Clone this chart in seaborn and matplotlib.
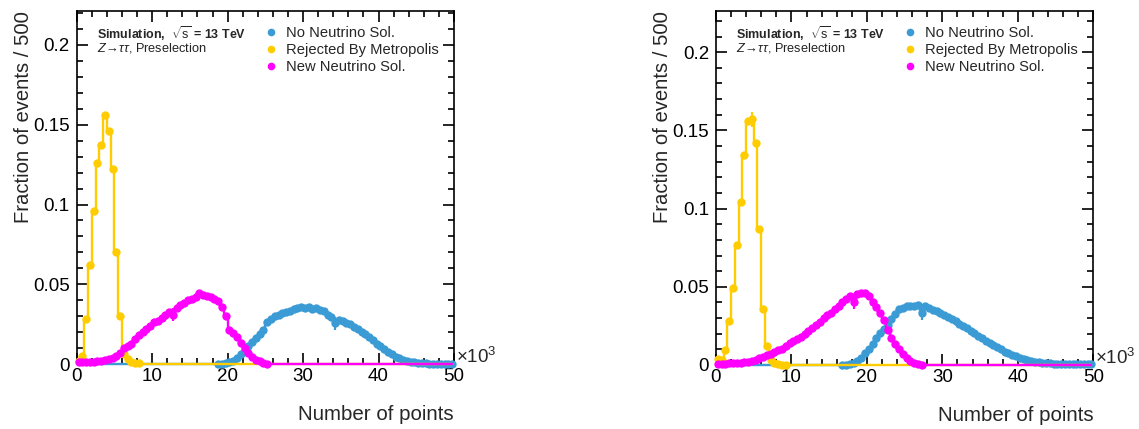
import numpy as np
import pandas as pd
import matplotlib
matplotlib.use("Agg")
import matplotlib.pyplot as plt
from matplotlib.lines import Line2D
from matplotlib.ticker import MultipleLocator
import seaborn as sns

# ---------------- data (x in units of 10^3 points, bins of 500) ----------------
bin_centers = [0.25 + 0.5 * i for i in range(100)]

series_names = ["No Neutrino Sol.", "Rejected By Metropolis", "New Neutrino Sol."]
series_colors = ["#3b9bd5", "#ffcc00", "#ff00ff"]

left_no_sol = [
    0, 0, 0, 0, 0, 0, 0, 0, 0, 0,
    0, 0, 0, 0, 0, 0, 0, 0, 0, 0,
    0, 0, 0, 0, 0, 0, 0, 0, 0, 0,
    0, 0, 0, 0, 0, 0, 0, 0.0002, 0.0003, 0.0005,
    0.0010, 0.0020, 0.0040, 0.0065, 0.0085, 0.0115, 0.0140, 0.0165, 0.0190, 0.0215,
    0.0265, 0.0285, 0.0300, 0.0310, 0.0318, 0.0325, 0.0335, 0.0345, 0.0352, 0.0356,
    0.0352, 0.0355, 0.0345, 0.0350, 0.0340, 0.0330, 0.0310, 0.0295, 0.0255, 0.0275,
    0.0268, 0.0260, 0.0248, 0.0235, 0.0220, 0.0202, 0.0185, 0.0168, 0.0150, 0.0128,
    0.0110, 0.0092, 0.0075, 0.0060, 0.0047, 0.0036, 0.0027, 0.0020, 0.0014, 0.0010,
    0.0007, 0.0005, 0.0004, 0.0003, 0.0003, 0.0002, 0.0002, 0.0002, 0.0002, 0.0002,
]
left_rejected = [
    0.0020, 0.0050, 0.0280, 0.0620, 0.0960, 0.1260, 0.1370, 0.1560, 0.1460, 0.1220,
    0.0700, 0.0300, 0.0060, 0.0030, 0.0015, 0.0008, 0.0004, 0, 0, 0,
    0, 0, 0, 0, 0, 0, 0, 0, 0, 0,
    0, 0, 0, 0, 0, 0, 0, 0, 0, 0,
    0, 0, 0, 0, 0, 0, 0, 0, 0, 0,
    0, 0, 0, 0, 0, 0, 0, 0, 0, 0,
    0, 0, 0, 0, 0, 0, 0, 0, 0, 0,
    0, 0, 0, 0, 0, 0, 0, 0, 0, 0,
    0, 0, 0, 0, 0, 0, 0, 0, 0, 0,
    0, 0, 0, 0, 0, 0, 0, 0, 0, 0,
]
left_new_sol = [
    0.0012, 0.0012, 0.0012, 0.0013, 0.0014, 0.0016, 0.0019, 0.0023, 0.0030, 0.0038,
    0.0050, 0.0070, 0.0098, 0.0112, 0.0128, 0.0155, 0.0180, 0.0203, 0.0220, 0.0240,
    0.0262, 0.0272, 0.0288, 0.0305, 0.0325, 0.0310, 0.0350, 0.0368, 0.0385, 0.0402,
    0.0408, 0.0420, 0.0447, 0.0435, 0.0425, 0.0418, 0.0408, 0.0395, 0.0360, 0.0300,
    0.0215, 0.0195, 0.0170, 0.0132, 0.0098, 0.0068, 0.0045, 0.0028, 0.0016, 0.0008,
    0.0003, 0, 0, 0, 0, 0, 0, 0, 0, 0,
    0, 0, 0, 0, 0, 0, 0, 0, 0, 0,
    0, 0, 0, 0, 0, 0, 0, 0, 0, 0,
    0, 0, 0, 0, 0, 0, 0, 0, 0, 0,
    0, 0, 0, 0, 0, 0, 0, 0, 0, 0,
]

right_no_sol = [
    0, 0, 0, 0, 0, 0, 0, 0, 0, 0,
    0, 0, 0, 0, 0, 0, 0, 0, 0, 0,
    0, 0, 0, 0, 0, 0, 0, 0, 0, 0,
    0, 0, 0, 0.0002, 0.0003, 0.0005, 0.0012, 0.0025, 0.0045, 0.0075,
    0.0100, 0.0135, 0.0170, 0.0205, 0.0232, 0.0255, 0.0295, 0.0325, 0.0355, 0.0365,
    0.0375, 0.0378, 0.0380, 0.0385, 0.0330, 0.0376, 0.0365, 0.0352, 0.0342, 0.0332,
    0.0318, 0.0305, 0.0292, 0.0280, 0.0265, 0.0250, 0.0235, 0.0220, 0.0205, 0.0188,
    0.0170, 0.0155, 0.0140, 0.0125, 0.0112, 0.0100, 0.0085, 0.0075, 0.0065, 0.0055,
    0.0046, 0.0038, 0.0032, 0.0026, 0.0021, 0.0017, 0.0014, 0.0012, 0.0010, 0.0009,
    0.0008, 0.0007, 0.0007, 0.0006, 0.0006, 0.0005, 0.0005, 0.0005, 0.0005, 0.0005,
]
right_rejected = [
    0.0040, 0.0030, 0.0097, 0.0280, 0.0490, 0.0770, 0.1040, 0.1340, 0.1560, 0.1570,
    0.1420, 0.0870, 0.0360, 0.0120, 0.0030, 0.0010, 0.0005, 0.0003, 0.0002, 0,
    0, 0, 0, 0, 0, 0, 0, 0, 0, 0,
    0, 0, 0, 0, 0, 0, 0, 0, 0, 0,
    0, 0, 0, 0, 0, 0, 0, 0, 0, 0,
    0, 0, 0, 0, 0, 0, 0, 0, 0, 0,
    0, 0, 0, 0, 0, 0, 0, 0, 0, 0,
    0, 0, 0, 0, 0, 0, 0, 0, 0, 0,
    0, 0, 0, 0, 0, 0, 0, 0, 0, 0,
    0, 0, 0, 0, 0, 0, 0, 0, 0, 0,
]
right_new_sol = [
    0.0008, 0.0008, 0.0009, 0.0010, 0.0011, 0.0013, 0.0015, 0.0018, 0.0022, 0.0027,
    0.0033, 0.0042, 0.0052, 0.0063, 0.0072, 0.0082, 0.0093, 0.0105, 0.0120, 0.0138,
    0.0152, 0.0165, 0.0182, 0.0198, 0.0215, 0.0235, 0.0258, 0.0275, 0.0298, 0.0318,
    0.0335, 0.0355, 0.0378, 0.0400, 0.0420, 0.0440, 0.0405, 0.0452, 0.0460, 0.0460,
    0.0440, 0.0405, 0.0372, 0.0335, 0.0285, 0.0225, 0.0175, 0.0135, 0.0100, 0.0068,
    0.0042, 0.0025, 0.0013, 0.0005, 0.0002, 0, 0, 0, 0, 0,
    0, 0, 0, 0, 0, 0, 0, 0, 0, 0,
    0, 0, 0, 0, 0, 0, 0, 0, 0, 0,
    0, 0, 0, 0, 0, 0, 0, 0, 0, 0,
    0, 0, 0, 0, 0, 0, 0, 0, 0, 0,
]

# visible statistical error bars (bin index, error) per series
left_errors = {"No Neutrino Sol.": [(68, 0.0040)], "New Neutrino Sol.": [(25, 0.0040)]}
right_errors = {"No Neutrino Sol.": [(54, 0.0045)], "New Neutrino Sol.": [(36, 0.0050)],
                "Rejected By Metropolis": [(9, 0.0050)]}

panels = [
    {"values": [left_no_sol, left_rejected, left_new_sol], "errors": left_errors, "ymax": 0.2213},
    {"values": [right_no_sol, right_rejected, right_new_sol], "errors": right_errors, "ymax": 0.2263},
]

# ---------------- style ----------------
sns.set_style("ticks")
plt.rcParams["font.family"] = ["Liberation Sans", "DejaVu Sans"]
plt.rcParams["mathtext.fontset"] = "custom"
plt.rcParams["mathtext.rm"] = "Liberation Sans"
plt.rcParams["mathtext.it"] = "Liberation Sans:italic"
plt.rcParams["mathtext.bf"] = "Liberation Sans:bold"

fig = plt.figure(figsize=(11.39, 4.29), dpi=100)
axes_rects = [[0.0673, 0.1515, 0.3313, 0.8228], [0.6286, 0.1492, 0.3313, 0.8251]]

for rect, panel in zip(axes_rects, panels):
    ax = fig.add_axes(rect)
    for k, (name, color, vals) in enumerate(zip(series_names, series_colors, panel["values"])):
        df = pd.DataFrame({"x": bin_centers, "y": vals})
        sns.lineplot(data=df, x="x", y="y", ax=ax, color=color, drawstyle="steps-mid",
                     linewidth=1.7, errorbar=None, legend=False, clip_on=False,
                     zorder=3 + 0.1 * k)
        filled = df[df["y"] > 0]
        sns.scatterplot(data=filled, x="x", y="y", ax=ax, color=color, s=36,
                        linewidth=0, clip_on=False, legend=False, zorder=3.05 + 0.1 * k)
        for idx, err in panel["errors"].get(name, []):
            ax.errorbar([bin_centers[idx]], [vals[idx]], yerr=[err], fmt="none",
                        ecolor=color, elinewidth=1.6, capsize=0, zorder=3.05 + 0.1 * k)
    ax.set_xlim(0, 50)
    ax.set_ylim(0, panel["ymax"])
    ax.xaxis.set_major_locator(MultipleLocator(10))
    ax.xaxis.set_minor_locator(MultipleLocator(2))
    ax.yaxis.set_minor_locator(MultipleLocator(0.01))
    ax.set_yticks([0, 0.05, 0.1, 0.15, 0.2])
    ax.set_yticklabels(["0", "0.05", "0.1", "0.15", "0.2"])
    ax.tick_params(which="both", direction="in", top=True, right=True, width=1.2,
                   labelsize=13.5, colors="black")
    ax.tick_params(which="major", length=8, pad=5)
    ax.tick_params(which="minor", length=4.5)
    ax.tick_params(axis="x", which="major", pad=3)
    for sp in ax.spines.values():
        sp.set_linewidth(1.2)
        sp.set_color("black")
    ax.set_xlabel("Number of points", fontsize=14.8, loc="right", labelpad=14)
    ax.set_ylabel("Fraction of events / 500", fontsize=14.6, loc="top", labelpad=0)
    ax.text(1.004, 0.002, r"$\times$10$^{3}$", transform=ax.transAxes, fontsize=13.5,
            ha="left", va="baseline")
    ax.text(0.054, 0.935, r"Simulation,  $\sqrt{\rm s}$ = 13 TeV", transform=ax.transAxes,
            fontsize=9, fontweight="bold", ha="left", va="center")
    ax.text(0.054, 0.895, r"$Z\!\rightarrow\!\tau\tau$, Preselection", transform=ax.transAxes,
            fontsize=9.2, ha="left", va="center", color="#222222")
    handles = [Line2D([], [], linestyle="none", marker="o", markersize=5.5, markeredgewidth=0,
                      color=c) for c in series_colors]
    ax.legend(handles, series_names, loc="upper left", bbox_to_anchor=(0.48, 0.975),
              frameon=False, fontsize=10.6, handlelength=1.0, handletextpad=0.5,
              labelspacing=0.22, borderaxespad=0)

fig.savefig("out.png", dpi=100)
